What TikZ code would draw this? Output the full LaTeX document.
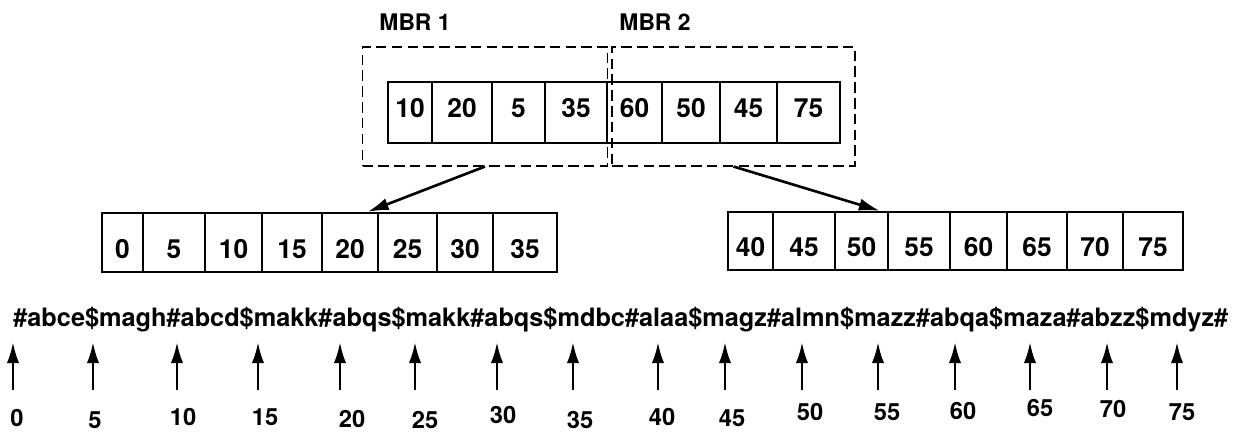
\documentclass[tikz,border=0pt]{standalone}
\usepackage{fontspec}
\setmainfont{TeX Gyre Heros}
\usetikzlibrary{arrows.meta}

\tikzset{
  cell/.style={draw, line width=1.3pt, inner sep=0pt, font=\fontsize{15}{18}\selectfont\bfseries},
  mbr/.style={draw, dash pattern=on 6pt off 3pt, line width=0.6pt, inner sep=0pt},
  ptr/.style={-{Latex[length=12pt,width=7pt]}, line width=1.5pt},
}

\begin{document}
\begin{tikzpicture}[x=0.02cm, y=-0.02cm]
        \useasboundingbox (0,0) rectangle (1240,435);
        % the two bounding rectangles of the root
        \node[mbr, minimum width=245*0.02cm, minimum height=119*0.02cm] (mbr1) at (485,106.5) {};
        \node[mbr, minimum width=243*0.02cm, minimum height=119*0.02cm] (mbr2) at (733.5,106.5) {};
        \node[font=\fontsize{13}{13}\selectfont\bfseries] (name1) at (415,22) {MBR 1};
        \node[font=\fontsize{13}{13}\selectfont\bfseries] (name2) at (655,22) {MBR 2};
        % root entries
        \foreach \l/\r/\v [count=\i] in {388/432/10, 432/492/20, 492/545/5, 545/607/35,
                                          607/662/60, 662/720/50, 720/777/45, 777/840/75}
          \node[cell, text depth=5pt, minimum width={(\r-\l)*0.02cm}, minimum height=61*0.02cm]
            (root\i) at ({(\l+\r)/2},112.5) {\v};
        % left leaf
        \foreach \l/\r/\v [count=\i] in {102/143/0, 143/205/5, 205/262/10, 262/322/15,
                                          322/378/20, 378/437/25, 437/493/30, 493/557/35}
          \node[cell, text height=18pt, minimum width={(\r-\l)*0.02cm}, minimum height=59*0.02cm]
            (leafa\i) at ({(\l+\r)/2},242.5) {\v};
        % right leaf
        \foreach \l/\r/\v [count=\i] in {728/773/40, 773/835/45, 835/888/50, 888/950/55,
                                          950/1007/60, 1007/1067/65, 1067/1123/70, 1123/1183/75}
          \node[cell, text height=18pt, minimum width={(\r-\l)*0.02cm}, minimum height=58*0.02cm]
            (leafb\i) at ({(\l+\r)/2},241) {\v};
        % root to leaves
        \draw[ptr] (mbr1.south) -- ([xshift=10pt]leafa5.north);
        \draw[ptr] (mbr2.south) -- ([xshift=10.5pt]leafb3.north);
        % the string
        \node[anchor=base west, inner sep=0pt, font=\fontsize{14.4}{17}\selectfont\bfseries] (str) at (13,327)
          {\#abce\$magh\#abcd\$makk\#abqs\$makk\#abqs\$mdbc\#alaa\$magz\#almn\$mazz\#abqa\$maza\#abzz\$mdyz\#};
        % offsets into the string
        \foreach \x/\lx/\ly/\v in {13/17/418/0, 93/95/420/5, 177/183/417/10, 258/265/417/15,
                                   340/352/419/20, 415/425/420/25, 497/503/415/30, 573/580/420/35,
                                   658/662/417/40, 725/732/418/45, 802/810/412/50, 878/887/412/55,
                                   955/963/411/60, 1030/1040/408/65, 1107/1113/409/70, 1177/1182/412/75} {
          \node[font=\fontsize{13.5}{14}\selectfont\bfseries] (off\v) at (\lx,\ly) {\v};
          \coordinate (foot\v) at (\x,390);
          \coordinate (tip\v) at (\x,342);
          \draw[ptr] (foot\v) -- (tip\v);
        }
    \end{tikzpicture}
\end{document}
